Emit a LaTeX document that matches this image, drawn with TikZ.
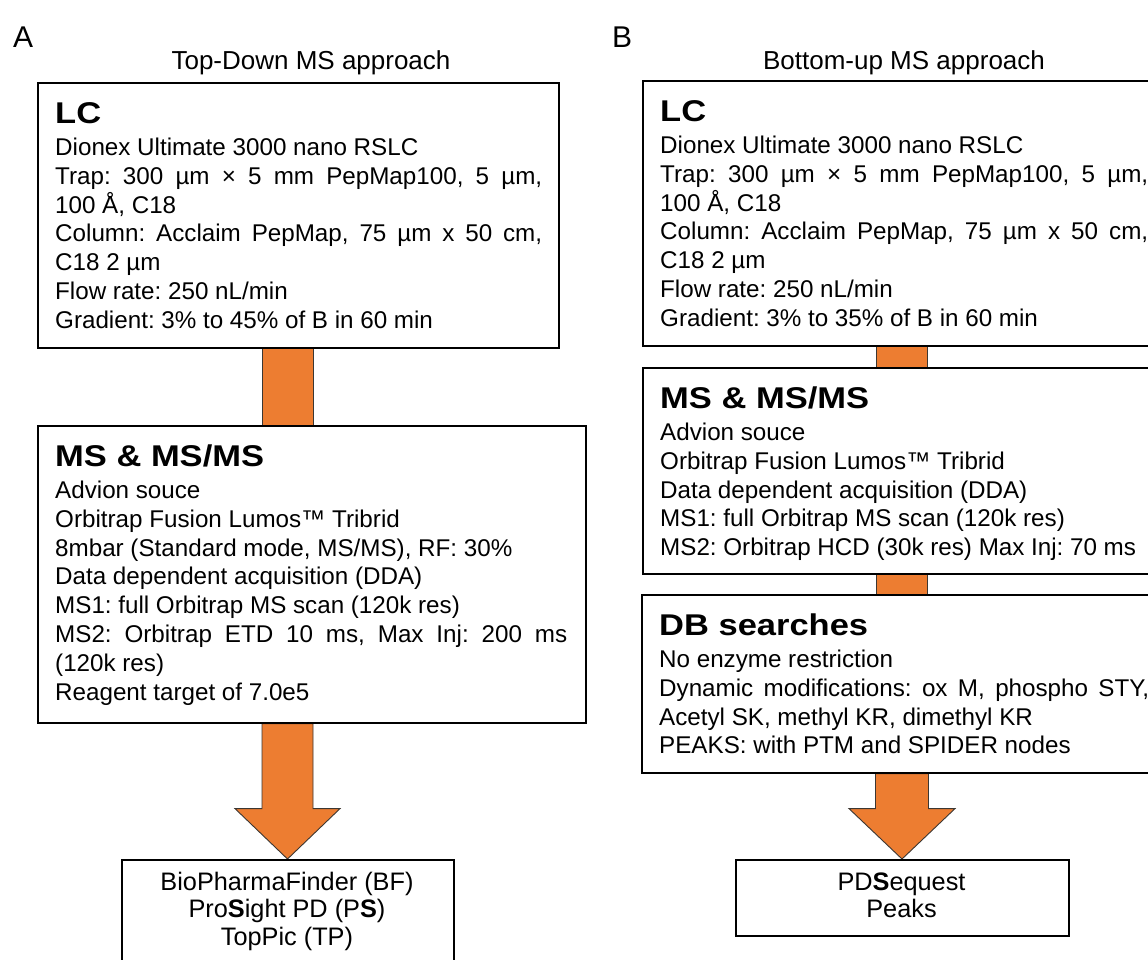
\documentclass[tikz,border=0pt]{standalone}
\usepackage{fontspec}
\usepackage{graphicx}
\setmainfont{Liberation Sans}
\usetikzlibrary{calc,backgrounds}
\definecolor{arroworange}{RGB}{237,125,49}
\definecolor{arrowedge}{RGB}{60,55,50}
\frenchspacing
\newcommand\hdfont{\fontsize{30}{36}\selectfont\bfseries}
\newcommand\bdfont{\fontsize{24.2}{28.8}\selectfont\frenchspacing\spaceskip=6.7pt plus 30pt minus 1pt\relax}
\newcommand\fnfont{\fontsize{25.3}{27.5}\selectfont}
\newcommand\hdtext[1]{\hbox{\hdfont\scalebox{1.15}[1]{#1}}}
\newcommand\bl[1]{\hbox{\bdfont #1}}
\newcommand\jl[1]{\hbox to\hsize{\bdfont #1}}
\newcommand\cl[1]{\hbox to\hsize{\hfil\fnfont #1\hfil}}
\newcommand\txtblock[3]{\vtop{\hsize=#1\parindent=0pt\lineskiplimit=-30pt\baselineskip=28.8pt\hdtext{#2}\vskip 3.7pt #3}}
\begin{document}
\begin{tikzpicture}[x=1pt,y=-1pt,
  box/.style={draw=black, line width=1.6pt, inner sep=0pt, anchor=north west},
  txt/.style={anchor=base west, inner sep=0pt},
  shaft/.style={fill=arroworange, draw=arrowedge, line width=0.9pt, line join=miter},
  titlefont/.style={font=\fontsize{26}{30}\selectfont},
  labfont/.style={font=\fontsize{30}{34}\selectfont}]
\useasboundingbox (0,0) rectangle (1148,959);
\clip (0,0) rectangle (1148,959);

% labels and titles
\node[txt, labfont] (labA) at (13,47) {A};
\node[txt, labfont] (labB) at (612,47) {B};
\node[anchor=base, inner sep=0pt, titlefont] (titA) at (311,69) {Top-Down MS approach};
\node[anchor=base, inner sep=0pt, titlefont] (titB) at (904,69) {Bottom-up MS approach};

% boxes panel A
\node[box, minimum width=521pt, minimum height=265pt] (lcA) at (37,82) {};
\node[box, minimum width=548pt, minimum height=297pt] (msA) at (37,425) {};
\node[box, minimum width=332pt, minimum height=130pt] (finA) at (121,859) {};
% boxes panel B
\node[box, minimum width=521pt, minimum height=265pt] (lcB) at (642,80) {};
\node[box, minimum width=521pt, minimum height=206pt] (msB) at (642,367) {};
\node[box, minimum width=521pt, minimum height=178pt] (dbB) at (641,594) {};
\node[box, minimum width=333pt, minimum height=76pt] (finB) at (735,859) {};

% texts panel A
\node[txt] (lcAt) at (55,123) {\txtblock{487pt}{LC}{%
  \bl{Dionex Ultimate 3000 nano RSLC}
  \jl{Trap: 300 µm × 5 mm PepMap100, 5 µm,}
  \bl{100 Å, C18}
  \jl{Column: Acclaim PepMap, 75 µm x 50 cm,}
  \bl{C18 2 µm}
  \bl{Flow rate: 250 nL/min}
  \bl{Gradient: 3\% to 45\% of B in 60 min}}};
\node[txt] (msAt) at (55,466) {\txtblock{512pt}{MS \& MS/MS}{%
  \bl{Advion souce}
  \bl{Orbitrap Fusion Lumos™ Tribrid}
  \bl{8mbar (Standard mode, MS/MS), RF: 30\%}
  \bl{Data dependent acquisition (DDA)}
  \bl{MS1: full Orbitrap MS scan (120k res)}
  \jl{MS2: Orbitrap ETD 10 ms, Max Inj: 200 ms}
  \bl{(120k res)}
  \bl{Reagent target of 7.0e5}}};
\node[anchor=base, inner sep=0pt] (finAt) at (287,890) {\vtop{\hsize=332pt\baselineskip=27.5pt
  \cl{BioPharmaFinder (BF)}
  \cl{Pro{\bfseries S}ight PD (P{\bfseries S})}
  \cl{TopPic (TP)}}};

% texts panel B
\node[txt] (lcBt) at (660,121) {\txtblock{488pt}{LC}{%
  \bl{Dionex Ultimate 3000 nano RSLC}
  \jl{Trap: 300 µm × 5 mm PepMap100, 5 µm,}
  \bl{100 Å, C18}
  \jl{Column: Acclaim PepMap, 75 µm x 50 cm,}
  \bl{C18 2 µm}
  \bl{Flow rate: 250 nL/min}
  \bl{Gradient: 3\% to 35\% of B in 60 min}}};
\node[txt] (msBt) at (660,408) {\txtblock{488pt}{MS \& MS/MS}{%
  \bl{Advion souce}
  \bl{Orbitrap Fusion Lumos™ Tribrid}
  \bl{Data dependent acquisition (DDA)}
  \bl{MS1: full Orbitrap MS scan (120k res)}
  \bl{MS2: Orbitrap HCD (30k res) Max Inj: 70 ms}}};
\node[txt] (dbBt) at (659,635) {\txtblock{490pt}{DB searches}{%
  \bl{No enzyme restriction}
  \jl{Dynamic modifications: ox M, phospho STY,}
  \bl{Acetyl SK, methyl KR, dimethyl KR}
  \bl{PEAKS: with PTM and SPIDER nodes}}};
\node[anchor=base, inner sep=0pt] (finBt) at (901.5,890) {\vtop{\hsize=333pt\baselineskip=27.5pt
  \cl{PD{\bfseries S}equest}
  \cl{Peaks}}};

% arrows
\coordinate (ca) at (287.5,0);
\coordinate (cb) at (902,0);
\begin{pgfonlayer}{background}
\fill[white] (0,0) rectangle (1148,959);
\filldraw[shaft] ($(ca |- lcA.south)+(-25.5,0)$) rectangle ($(ca |- msA.north)+(25.5,0)$);
\filldraw[shaft] ($(ca |- msA.south)+(-25.5,0)$) -- ++(0,85) -- ++(-27,0)
  -- (ca |- finA.north) -- ($(ca |- msA.south)+(52.5,85)$) -- ++(-27,0) -- ($(ca |- msA.south)+(25.5,0)$) -- cycle;
\filldraw[shaft] ($(cb |- lcB.south)+(-25.5,0)$) rectangle ($(cb |- msB.north)+(25.5,0)$);
\filldraw[shaft] ($(cb |- msB.south)+(-25.5,0)$) rectangle ($(cb |- dbB.north)+(25.5,0)$);
\filldraw[shaft] ($(cb |- dbB.south)+(-26.5,0)$) -- ++(0,35) -- ++(-26.5,0)
  -- (cb |- finB.north) -- ($(cb |- dbB.south)+(53,35)$) -- ++(-26.5,0) -- ($(cb |- dbB.south)+(26.5,0)$) -- cycle;
\end{pgfonlayer}
\end{tikzpicture}
\end{document}
